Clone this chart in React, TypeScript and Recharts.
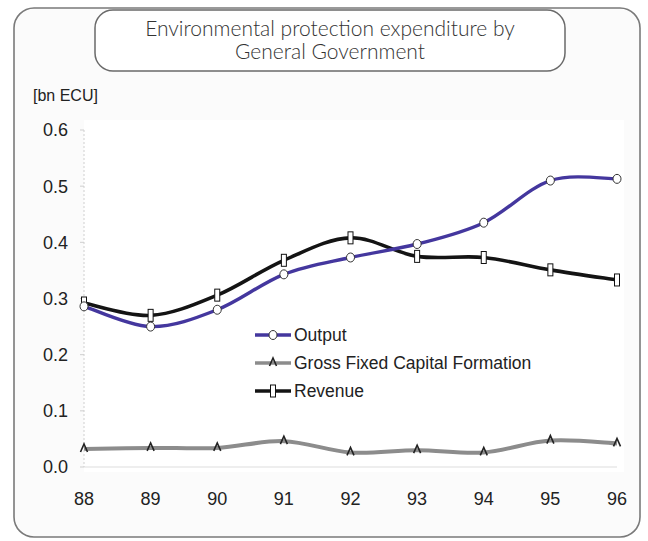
import React from "react"
import { LineChart, Line, XAxis, YAxis } from "recharts"

const years = ["88", "89", "90", "91", "92", "93", "94", "95", "96"]
const output = [0.286, 0.25, 0.28, 0.343, 0.373, 0.397, 0.435, 0.51, 0.513]
const gfcf = [0.032, 0.034, 0.034, 0.046, 0.026, 0.03, 0.026, 0.047, 0.042]
const revenue = [0.292, 0.27, 0.306, 0.368, 0.408, 0.375, 0.373, 0.351, 0.333]
const yTicks = [0, 0.1, 0.2, 0.3, 0.4, 0.5, 0.6]

const data = years.map((year, i) => ({
  year,
  output: output[i],
  gfcf: gfcf[i],
  revenue: revenue[i],
}))

const OUTPUT_COLOR = "#44379e"
const GFCF_COLOR = "#8c8c8c"
const REVENUE_COLOR = "#141414"
const FONT = "'Liberation Sans', Arial, sans-serif"
const TITLE_FONT = "Lato, 'DejaVu Sans', sans-serif"

// excel-style smoothed line (catmull-rom through every point)
function smoothCurve(context: any) {
  let pts: number[][] = []
  return {
    areaStart() {},
    areaEnd() {},
    lineStart() {
      pts = []
    },
    point(x: number, y: number) {
      pts.push([+x, +y])
    },
    lineEnd() {
      if (!pts.length) return
      context.moveTo(pts[0][0], pts[0][1])
      for (let i = 0; i < pts.length - 1; i++) {
        const p0 = pts[i - 1] || pts[i]
        const p1 = pts[i]
        const p2 = pts[i + 1]
        const p3 = pts[i + 2] || p2
        context.bezierCurveTo(
          p1[0] + (p2[0] - p0[0]) / 6,
          p1[1] + (p2[1] - p0[1]) / 6,
          p2[0] - (p3[0] - p1[0]) / 6,
          p2[1] - (p3[1] - p1[1]) / 6,
          p2[0],
          p2[1]
        )
      }
    },
  }
}

const CircleDot = (props: any) => {
  const { cx, cy, index } = props
  return <ellipse key={index} cx={cx} cy={cy} rx={4} ry={4.5} fill="#fff" stroke="#333" strokeWidth={1} />
}

const CaretDot = (props: any) => {
  const { cx, cy, index } = props
  return (
    <path
      key={index}
      d={`M${cx - 3.5},${cy + 3} L${cx},${cy - 5} L${cx + 3.5},${cy + 3}`}
      fill="none"
      stroke="#222"
      strokeWidth={1.6}
    />
  )
}

const BarDot = (props: any) => {
  const { cx, cy, index } = props
  return <rect key={index} x={cx - 2.5} y={cy - 6} width={5} height={12} fill="#fff" stroke="#111" strokeWidth={1} />
}

const legendItems = [
  { name: "Output", color: OUTPUT_COLOR, dot: CircleDot },
  { name: "Gross Fixed Capital Formation", color: GFCF_COLOR, dot: CaretDot },
  { name: "Revenue", color: REVENUE_COLOR, dot: BarDot },
]

const ChartLegend = () => (
  <svg width={360} height={84} style={{ position: "absolute", left: 254, top: 323 }}>
    {legendItems.map((item, i) => {
      const y = 12 + i * 28
      const Dot = item.dot
      return (
        <g key={item.name}>
          <line x1={1} x2={37} y1={y} y2={y} stroke={item.color} strokeWidth={3.5} />
          <Dot cx={19} cy={y} index={i} />
          <text x={40} y={y + 6} fontSize={17.5} fontFamily={FONT} fill="#222">
            {item.name}
          </text>
        </g>
      )
    })}
  </svg>
)

export default function App() {
  return (
    <div style={{ position: "absolute", left: 0, top: 0, width: 648, height: 541, background: "#fff" }}>
      <svg width={648} height={541} style={{ position: "absolute", left: 0, top: 0 }}>
        <rect x={14} y={8} width={626} height={529} rx={20} fill="#fbfbfb" stroke="#7a7a7a" strokeWidth={1.6} />
        <rect x={84} y={120} width={540} height={352} fill="#fff" />
        <rect x={95} y={10} width={470} height={61} rx={18} fill="#fff" stroke="#6a6a6a" strokeWidth={1.5} />
        <text x={330} y={36} textAnchor="middle" fontSize={21} fontFamily={TITLE_FONT} fontWeight={300} fill="#333">
          Environmental protection expenditure by
        </text>
        <text x={330} y={59} textAnchor="middle" fontSize={21} fontFamily={TITLE_FONT} fontWeight={300} fill="#333">
          General Government
        </text>
        <text x={33} y={101} fontSize={16} fontFamily={FONT} fill="#222">
          [bn ECU]
        </text>
      </svg>
      <div style={{ position: "absolute", left: 0, top: 0 }}>
        <LineChart width={648} height={541} data={data} margin={{ top: 130, right: 31, left: 24, bottom: 44 }}>
          <XAxis
            dataKey="year"
            axisLine={{ stroke: "#ddd", strokeWidth: 1 }}
            tickLine={false}
            tickMargin={19}
            height={30}
            tick={{ fill: "#222", fontSize: 18, fontFamily: FONT }}
          />
          <YAxis
            domain={[0, 0.6]}
            ticks={yTicks}
            width={60}
            axisLine={{ stroke: "#cfcfcf", strokeDasharray: "2 2" }}
            tickLine={{ stroke: "#cfcfcf" }}
            tickSize={4}
            tickMargin={12}
            tickFormatter={(v: number) => v.toFixed(1)}
            tick={{ fill: "#222", fontSize: 18, fontFamily: FONT }}
          />
          <Line
            dataKey="gfcf"
            name="Gross Fixed Capital Formation"
            type={smoothCurve as any}
            stroke={GFCF_COLOR}
            strokeWidth={4}
            dot={<CaretDot />}
            isAnimationActive={false}
          />
          <Line
            dataKey="revenue"
            name="Revenue"
            type={smoothCurve as any}
            stroke={REVENUE_COLOR}
            strokeWidth={3.6}
            dot={<BarDot />}
            isAnimationActive={false}
          />
          <Line
            dataKey="output"
            name="Output"
            type={smoothCurve as any}
            stroke={OUTPUT_COLOR}
            strokeWidth={3.4}
            dot={<CircleDot />}
            isAnimationActive={false}
          />
        </LineChart>
      </div>
      <ChartLegend />
    </div>
  )
}
